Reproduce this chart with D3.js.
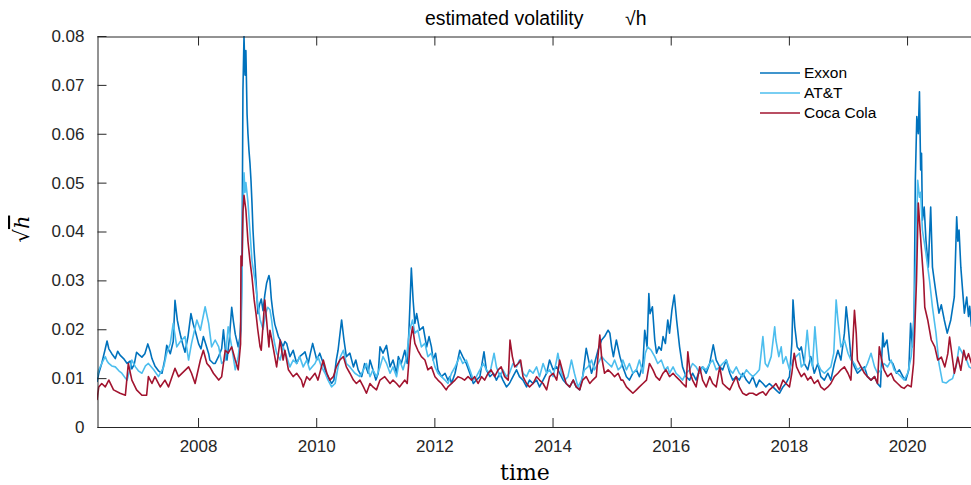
<!DOCTYPE html>
<html><head><meta charset="utf-8">
<script src="https://cdn.jsdelivr.net/npm/d3@7"></script>
<style>html,body{margin:0;padding:0;background:#fff;}svg{display:block;}</style>
</head><body><svg id="c" width="971" height="485"></svg>
<script>
const seriesNames = ["Exxon", "AT&T", "Coca Cola"];
const seriesColors = ["#0072BD", "#4DBEEE", "#A2142F"];
const xTicks = [2008, 2010, 2012, 2014, 2016, 2018, 2020];
const yTicks = [0, 0.01, 0.02, 0.03, 0.04, 0.05, 0.06, 0.07, 0.08];
const yTickLabels = ["0", "0.01", "0.02", "0.03", "0.04", "0.05", "0.06", "0.07", "0.08"];

const exxon = [[2006.29,0.0092],[2006.32,0.0110],[2006.37,0.0130],[2006.43,0.0160],[2006.46,0.0176],[2006.49,0.0160],[2006.54,0.0150],[2006.60,0.0140],[2006.64,0.0155],[2006.68,0.0147],[2006.74,0.0140],[2006.80,0.0130],[2006.85,0.0135],[2006.88,0.0119],[2006.92,0.0128],[2006.96,0.0153],[2007.00,0.0148],[2007.05,0.0143],[2007.10,0.0150],[2007.15,0.0170],[2007.19,0.0155],[2007.22,0.0140],[2007.27,0.0125],[2007.33,0.0115],[2007.39,0.0110],[2007.44,0.0140],[2007.47,0.0167],[2007.53,0.0150],[2007.58,0.0175],[2007.61,0.0259],[2007.65,0.0218],[2007.68,0.0200],[2007.71,0.0184],[2007.75,0.0165],[2007.78,0.0153],[2007.83,0.0185],[2007.88,0.0232],[2007.92,0.0210],[2007.95,0.0198],[2008.01,0.0170],[2008.05,0.0160],[2008.09,0.0185],[2008.13,0.0170],[2008.18,0.0150],[2008.20,0.0137],[2008.26,0.0130],[2008.29,0.0130],[2008.35,0.0145],[2008.40,0.0160],[2008.43,0.0199],[2008.46,0.0160],[2008.49,0.0137],[2008.53,0.0180],[2008.57,0.0245],[2008.60,0.0215],[2008.63,0.0190],[2008.68,0.0164],[2008.71,0.0185],[2008.73,0.0230],[2008.745,0.0350],[2008.76,0.0690],[2008.778,0.0800],[2008.795,0.0720],[2008.81,0.0770],[2008.83,0.0640],[2008.845,0.0600],[2008.862,0.0566],[2008.879,0.0540],[2008.896,0.0505],[2008.913,0.0458],[2008.93,0.0403],[2008.95,0.0360],[2008.964,0.0335],[2008.99,0.0280],[2009.014,0.0232],[2009.04,0.0250],[2009.07,0.0262],[2009.10,0.0238],[2009.13,0.0270],[2009.16,0.0294],[2009.20,0.0310],[2009.217,0.0300],[2009.24,0.0262],[2009.27,0.0232],[2009.30,0.0210],[2009.33,0.0198],[2009.36,0.0185],[2009.39,0.0178],[2009.44,0.0164],[2009.47,0.0175],[2009.50,0.0171],[2009.555,0.0144],[2009.61,0.0157],[2009.67,0.0130],[2009.72,0.0144],[2009.78,0.0150],[2009.81,0.0154],[2009.865,0.0130],[2009.90,0.0150],[2009.94,0.0171],[2010.01,0.0137],[2010.06,0.0151],[2010.12,0.0130],[2010.15,0.0117],[2010.20,0.0103],[2010.26,0.0089],[2010.30,0.0096],[2010.34,0.0137],[2010.37,0.0157],[2010.43,0.0219],[2010.47,0.0178],[2010.51,0.0144],[2010.57,0.0151],[2010.63,0.0123],[2010.67,0.0137],[2010.71,0.0117],[2010.77,0.0103],[2010.82,0.0130],[2010.88,0.0110],[2010.91,0.0137],[2010.96,0.0117],[2011.01,0.0096],[2011.05,0.0110],[2011.08,0.0164],[2011.13,0.0151],[2011.19,0.0167],[2011.25,0.0123],[2011.30,0.0137],[2011.36,0.0110],[2011.39,0.0144],[2011.44,0.0130],[2011.50,0.0157],[2011.54,0.0130],[2011.57,0.0198],[2011.61,0.0325],[2011.64,0.0260],[2011.67,0.0212],[2011.70,0.0232],[2011.75,0.0198],[2011.81,0.0205],[2011.87,0.0164],[2011.91,0.0185],[2011.95,0.0164],[2011.98,0.0137],[2012.02,0.0151],[2012.06,0.0117],[2012.12,0.0103],[2012.18,0.0110],[2012.23,0.0096],[2012.26,0.0103],[2012.29,0.0089],[2012.35,0.0110],[2012.43,0.0157],[2012.48,0.0144],[2012.54,0.0130],[2012.60,0.0110],[2012.66,0.0089],[2012.71,0.0096],[2012.77,0.0103],[2012.84,0.0154],[2012.88,0.0117],[2012.94,0.0103],[2013.00,0.0110],[2013.05,0.0096],[2013.11,0.0110],[2013.16,0.0096],[2013.22,0.0082],[2013.27,0.0089],[2013.33,0.0103],[2013.39,0.0117],[2013.44,0.0103],[2013.50,0.0096],[2013.56,0.0082],[2013.61,0.0096],[2013.67,0.0089],[2013.73,0.0096],[2013.78,0.0082],[2013.84,0.0096],[2013.90,0.0110],[2013.95,0.0137],[2014.01,0.0117],[2014.07,0.0123],[2014.12,0.0110],[2014.18,0.0096],[2014.23,0.0089],[2014.29,0.0082],[2014.35,0.0096],[2014.40,0.0082],[2014.46,0.0076],[2014.51,0.0103],[2014.57,0.0161],[2014.61,0.0137],[2014.66,0.0110],[2014.71,0.0130],[2014.77,0.0157],[2014.83,0.0178],[2014.88,0.0185],[2014.94,0.0198],[2014.97,0.0192],[2015.00,0.0164],[2015.03,0.0144],[2015.08,0.0178],[2015.14,0.0144],[2015.19,0.0123],[2015.25,0.0103],[2015.30,0.0096],[2015.36,0.0110],[2015.42,0.0117],[2015.47,0.0103],[2015.53,0.0130],[2015.56,0.0198],[2015.60,0.0164],[2015.63,0.0273],[2015.65,0.0232],[2015.69,0.0246],[2015.73,0.0178],[2015.76,0.0151],[2015.80,0.0164],[2015.84,0.0157],[2015.87,0.0185],[2015.91,0.0171],[2015.95,0.0219],[2015.98,0.0192],[2016.02,0.0239],[2016.06,0.0270],[2016.10,0.0219],[2016.15,0.0164],[2016.20,0.0123],[2016.26,0.0103],[2016.32,0.0096],[2016.37,0.0110],[2016.43,0.0096],[2016.49,0.0117],[2016.54,0.0123],[2016.60,0.0110],[2016.66,0.0130],[2016.72,0.0168],[2016.77,0.0137],[2016.83,0.0123],[2016.88,0.0117],[2016.94,0.0137],[2017.00,0.0110],[2017.05,0.0096],[2017.11,0.0103],[2017.16,0.0096],[2017.22,0.0110],[2017.28,0.0096],[2017.33,0.0089],[2017.39,0.0103],[2017.45,0.0082],[2017.50,0.0096],[2017.56,0.0089],[2017.61,0.0082],[2017.67,0.0089],[2017.73,0.0082],[2017.78,0.0076],[2017.84,0.0069],[2017.90,0.0082],[2017.95,0.0089],[2018.01,0.0103],[2018.05,0.0171],[2018.07,0.0260],[2018.10,0.0205],[2018.14,0.0164],[2018.18,0.0157],[2018.21,0.0164],[2018.26,0.0130],[2018.32,0.0117],[2018.37,0.0144],[2018.43,0.0110],[2018.49,0.0130],[2018.54,0.0103],[2018.60,0.0096],[2018.66,0.0110],[2018.71,0.0096],[2018.77,0.0130],[2018.83,0.0157],[2018.88,0.0137],[2018.94,0.0192],[2018.97,0.0246],[2019.00,0.0212],[2019.03,0.0171],[2019.05,0.0144],[2019.11,0.0123],[2019.16,0.0110],[2019.22,0.0117],[2019.28,0.0123],[2019.33,0.0103],[2019.39,0.0096],[2019.45,0.0103],[2019.50,0.0089],[2019.55,0.0082],[2019.59,0.0192],[2019.61,0.0164],[2019.66,0.0178],[2019.70,0.0137],[2019.76,0.0130],[2019.82,0.0110],[2019.87,0.0117],[2019.93,0.0103],[2019.98,0.0096],[2020.03,0.0117],[2020.06,0.0212],[2020.09,0.0164],[2020.12,0.0232],[2020.14,0.0505],[2020.165,0.0635],[2020.19,0.0600],[2020.21,0.0686],[2020.23,0.0526],[2020.245,0.0560],[2020.26,0.0423],[2020.29,0.0450],[2020.32,0.0382],[2020.36,0.0327],[2020.40,0.0450],[2020.43,0.0327],[2020.46,0.0300],[2020.49,0.0274],[2020.54,0.0233],[2020.58,0.0250],[2020.63,0.0219],[2020.68,0.0192],[2020.74,0.0219],[2020.80,0.0266],[2020.84,0.0430],[2020.86,0.0380],[2020.88,0.0403],[2020.91,0.0327],[2020.94,0.0280],[2020.97,0.0233],[2021.01,0.0266],[2021.04,0.0226],[2021.06,0.0247],[2021.09,0.0205]];

const att = [[2006.29,0.0103],[2006.32,0.0117],[2006.37,0.0130],[2006.43,0.0144],[2006.46,0.0135],[2006.49,0.0130],[2006.54,0.0125],[2006.60,0.0123],[2006.66,0.0115],[2006.71,0.0110],[2006.77,0.0100],[2006.80,0.0096],[2006.85,0.0120],[2006.88,0.0137],[2006.94,0.0123],[2006.99,0.0115],[2007.05,0.0110],[2007.11,0.0125],[2007.16,0.0130],[2007.25,0.0117],[2007.33,0.0103],[2007.42,0.0123],[2007.47,0.0151],[2007.53,0.0171],[2007.58,0.0212],[2007.64,0.0164],[2007.70,0.0175],[2007.78,0.0185],[2007.84,0.0137],[2007.89,0.0171],[2007.98,0.0219],[2008.04,0.0198],[2008.12,0.0246],[2008.18,0.0212],[2008.23,0.0164],[2008.29,0.0178],[2008.35,0.0164],[2008.40,0.0130],[2008.46,0.0137],[2008.51,0.0205],[2008.57,0.0164],[2008.63,0.0117],[2008.68,0.0144],[2008.73,0.0198],[2008.745,0.0300],[2008.76,0.0450],[2008.778,0.0520],[2008.795,0.0480],[2008.81,0.0500],[2008.845,0.0460],[2008.879,0.0400],[2008.913,0.0340],[2008.964,0.0300],[2009.014,0.0250],[2009.05,0.0220],[2009.10,0.0200],[2009.14,0.0230],[2009.18,0.0245],[2009.217,0.0240],[2009.245,0.0219],[2009.285,0.0178],[2009.33,0.0151],[2009.39,0.0137],[2009.44,0.0164],[2009.50,0.0144],[2009.555,0.0123],[2009.61,0.0137],[2009.67,0.0130],[2009.72,0.0144],[2009.78,0.0123],[2009.84,0.0137],[2009.89,0.0117],[2009.98,0.0130],[2010.03,0.0144],[2010.09,0.0123],[2010.15,0.0110],[2010.20,0.0096],[2010.26,0.0082],[2010.32,0.0089],[2010.37,0.0123],[2010.41,0.0144],[2010.46,0.0157],[2010.51,0.0130],[2010.57,0.0123],[2010.655,0.0110],[2010.74,0.0103],[2010.80,0.0117],[2010.85,0.0130],[2010.91,0.0103],[2010.96,0.0117],[2011.02,0.0103],[2011.08,0.0123],[2011.13,0.0144],[2011.19,0.0130],[2011.25,0.0110],[2011.30,0.0123],[2011.36,0.0103],[2011.41,0.0137],[2011.47,0.0117],[2011.53,0.0144],[2011.58,0.0198],[2011.63,0.0219],[2011.67,0.0192],[2011.72,0.0198],[2011.78,0.0164],[2011.84,0.0171],[2011.89,0.0144],[2011.95,0.0151],[2012.01,0.0123],[2012.06,0.0110],[2012.12,0.0103],[2012.18,0.0096],[2012.23,0.0089],[2012.29,0.0110],[2012.35,0.0123],[2012.43,0.0144],[2012.48,0.0130],[2012.54,0.0137],[2012.60,0.0117],[2012.66,0.0096],[2012.71,0.0103],[2012.77,0.0117],[2012.83,0.0130],[2012.88,0.0117],[2012.94,0.0110],[2013.01,0.0151],[2013.05,0.0123],[2013.11,0.0103],[2013.16,0.0117],[2013.22,0.0103],[2013.27,0.0110],[2013.33,0.0130],[2013.39,0.0123],[2013.44,0.0137],[2013.50,0.0110],[2013.56,0.0103],[2013.61,0.0117],[2013.67,0.0110],[2013.73,0.0123],[2013.78,0.0103],[2013.84,0.0130],[2013.90,0.0110],[2013.95,0.0117],[2014.01,0.0103],[2014.07,0.0137],[2014.09,0.0151],[2014.15,0.0110],[2014.21,0.0096],[2014.26,0.0103],[2014.32,0.0137],[2014.37,0.0110],[2014.43,0.0082],[2014.49,0.0096],[2014.54,0.0117],[2014.60,0.0123],[2014.66,0.0137],[2014.71,0.0117],[2014.77,0.0130],[2014.83,0.0144],[2014.88,0.0137],[2014.94,0.0130],[2015.00,0.0123],[2015.05,0.0137],[2015.11,0.0117],[2015.16,0.0123],[2015.19,0.0137],[2015.25,0.0117],[2015.30,0.0130],[2015.36,0.0110],[2015.42,0.0117],[2015.47,0.0137],[2015.53,0.0110],[2015.57,0.0151],[2015.61,0.0164],[2015.67,0.0157],[2015.73,0.0144],[2015.78,0.0130],[2015.84,0.0137],[2015.90,0.0117],[2015.95,0.0123],[2015.98,0.0110],[2016.04,0.0123],[2016.09,0.0110],[2016.15,0.0103],[2016.20,0.0096],[2016.26,0.0110],[2016.32,0.0117],[2016.37,0.0130],[2016.43,0.0123],[2016.49,0.0110],[2016.54,0.0123],[2016.60,0.0117],[2016.66,0.0130],[2016.71,0.0137],[2016.77,0.0117],[2016.83,0.0123],[2016.88,0.0130],[2016.94,0.0137],[2017.00,0.0117],[2017.05,0.0110],[2017.11,0.0123],[2017.16,0.0110],[2017.22,0.0103],[2017.28,0.0117],[2017.33,0.0110],[2017.39,0.0103],[2017.45,0.0110],[2017.50,0.0117],[2017.56,0.0185],[2017.60,0.0130],[2017.64,0.0123],[2017.70,0.0144],[2017.76,0.0205],[2017.78,0.0178],[2017.83,0.0144],[2017.87,0.0164],[2017.90,0.0130],[2017.95,0.0144],[2017.98,0.0130],[2018.01,0.0117],[2018.07,0.0137],[2018.12,0.0144],[2018.18,0.0151],[2018.21,0.0123],[2018.26,0.0130],[2018.31,0.0198],[2018.35,0.0144],[2018.40,0.0123],[2018.44,0.0205],[2018.49,0.0130],[2018.54,0.0117],[2018.60,0.0110],[2018.66,0.0117],[2018.71,0.0123],[2018.76,0.0151],[2018.80,0.0260],[2018.83,0.0219],[2018.88,0.0164],[2018.94,0.0178],[2019.00,0.0151],[2019.05,0.0137],[2019.11,0.0130],[2019.16,0.0117],[2019.22,0.0123],[2019.28,0.0117],[2019.33,0.0130],[2019.39,0.0151],[2019.45,0.0123],[2019.50,0.0110],[2019.56,0.0117],[2019.61,0.0130],[2019.67,0.0123],[2019.73,0.0137],[2019.78,0.0117],[2019.84,0.0110],[2019.90,0.0103],[2019.95,0.0096],[2020.01,0.0110],[2020.07,0.0144],[2020.11,0.0198],[2020.15,0.0350],[2020.18,0.0505],[2020.21,0.0470],[2020.23,0.0480],[2020.26,0.0403],[2020.32,0.0355],[2020.38,0.0300],[2020.43,0.0245],[2020.49,0.0192],[2020.54,0.0130],[2020.60,0.0092],[2020.66,0.0090],[2020.71,0.0095],[2020.77,0.0099],[2020.83,0.0123],[2020.88,0.0164],[2020.94,0.0150],[2020.99,0.0143],[2021.05,0.0123],[2021.09,0.0120]];

const coke = [[2006.29,0.0055],[2006.32,0.0082],[2006.37,0.0089],[2006.43,0.0082],[2006.49,0.0096],[2006.57,0.0076],[2006.68,0.0069],[2006.77,0.0065],[2006.82,0.0130],[2006.88,0.0096],[2006.96,0.0076],[2007.05,0.0065],[2007.13,0.0065],[2007.16,0.0103],[2007.22,0.0089],[2007.27,0.0103],[2007.36,0.0082],[2007.44,0.0096],[2007.50,0.0082],[2007.56,0.0103],[2007.61,0.0120],[2007.67,0.0103],[2007.84,0.0123],[2007.89,0.0110],[2007.95,0.0089],[2008.04,0.0137],[2008.09,0.0157],[2008.15,0.0130],[2008.20,0.0123],[2008.26,0.0110],[2008.35,0.0096],[2008.40,0.0103],[2008.46,0.0157],[2008.51,0.0151],[2008.57,0.0164],[2008.63,0.0137],[2008.68,0.0117],[2008.72,0.0170],[2008.727,0.0350],[2008.744,0.0330],[2008.76,0.0440],[2008.778,0.0474],[2008.81,0.0444],[2008.845,0.0380],[2008.879,0.0340],[2008.913,0.0307],[2008.95,0.0260],[2008.98,0.0233],[2009.01,0.0200],[2009.05,0.0164],[2009.07,0.0157],[2009.13,0.0260],[2009.16,0.0219],[2009.20,0.0164],[2009.217,0.0198],[2009.25,0.0178],[2009.27,0.0164],[2009.33,0.0123],[2009.39,0.0178],[2009.44,0.0137],[2009.47,0.0157],[2009.53,0.0117],[2009.61,0.0103],[2009.67,0.0110],[2009.75,0.0096],[2009.78,0.0082],[2009.84,0.0103],[2009.89,0.0096],[2009.98,0.0110],[2010.03,0.0096],[2010.12,0.0137],[2010.18,0.0110],[2010.23,0.0096],[2010.29,0.0103],[2010.34,0.0123],[2010.40,0.0137],[2010.46,0.0144],[2010.51,0.0123],[2010.57,0.0110],[2010.63,0.0096],[2010.68,0.0089],[2010.74,0.0096],[2010.80,0.0082],[2010.85,0.0069],[2010.91,0.0089],[2010.96,0.0082],[2011.02,0.0076],[2011.08,0.0096],[2011.16,0.0103],[2011.25,0.0089],[2011.30,0.0096],[2011.36,0.0089],[2011.41,0.0082],[2011.50,0.0096],[2011.54,0.0089],[2011.595,0.0178],[2011.63,0.0205],[2011.67,0.0171],[2011.72,0.0157],[2011.78,0.0144],[2011.84,0.0137],[2011.89,0.0117],[2011.95,0.0123],[2012.01,0.0103],[2012.06,0.0096],[2012.12,0.0089],[2012.20,0.0076],[2012.23,0.0082],[2012.29,0.0089],[2012.35,0.0096],[2012.40,0.0103],[2012.46,0.0100],[2012.51,0.0096],[2012.57,0.0103],[2012.63,0.0096],[2012.68,0.0103],[2012.74,0.0089],[2012.80,0.0103],[2012.85,0.0096],[2012.91,0.0110],[2012.96,0.0117],[2013.02,0.0103],[2013.08,0.0117],[2013.13,0.0123],[2013.19,0.0103],[2013.25,0.0096],[2013.28,0.0178],[2013.32,0.0144],[2013.36,0.0123],[2013.42,0.0130],[2013.46,0.0137],[2013.50,0.0103],[2013.56,0.0089],[2013.61,0.0082],[2013.67,0.0089],[2013.73,0.0103],[2013.78,0.0096],[2013.84,0.0089],[2013.90,0.0076],[2013.95,0.0103],[2014.01,0.0110],[2014.07,0.0096],[2014.12,0.0137],[2014.18,0.0110],[2014.23,0.0089],[2014.29,0.0082],[2014.35,0.0096],[2014.40,0.0082],[2014.46,0.0076],[2014.51,0.0096],[2014.57,0.0103],[2014.63,0.0089],[2014.68,0.0096],[2014.74,0.0103],[2014.80,0.0188],[2014.83,0.0144],[2014.88,0.0110],[2014.94,0.0117],[2015.00,0.0110],[2015.05,0.0103],[2015.11,0.0110],[2015.16,0.0096],[2015.19,0.0096],[2015.25,0.0082],[2015.30,0.0076],[2015.36,0.0069],[2015.42,0.0076],[2015.47,0.0082],[2015.53,0.0089],[2015.59,0.0096],[2015.64,0.0130],[2015.70,0.0117],[2015.75,0.0103],[2015.81,0.0096],[2015.87,0.0110],[2015.92,0.0117],[2015.98,0.0103],[2016.04,0.0110],[2016.09,0.0103],[2016.15,0.0096],[2016.20,0.0089],[2016.26,0.0082],[2016.29,0.0154],[2016.33,0.0110],[2016.37,0.0096],[2016.43,0.0082],[2016.49,0.0123],[2016.54,0.0096],[2016.60,0.0082],[2016.66,0.0103],[2016.71,0.0089],[2016.77,0.0082],[2016.83,0.0123],[2016.88,0.0089],[2016.94,0.0082],[2017.00,0.0076],[2017.05,0.0089],[2017.11,0.0103],[2017.16,0.0082],[2017.22,0.0069],[2017.28,0.0065],[2017.33,0.0069],[2017.39,0.0069],[2017.45,0.0065],[2017.50,0.0069],[2017.56,0.0072],[2017.61,0.0065],[2017.67,0.0076],[2017.73,0.0082],[2017.78,0.0089],[2017.84,0.0076],[2017.90,0.0096],[2017.95,0.0089],[2018.01,0.0082],[2018.05,0.0110],[2018.09,0.0151],[2018.13,0.0123],[2018.18,0.0110],[2018.21,0.0103],[2018.26,0.0110],[2018.32,0.0096],[2018.37,0.0103],[2018.43,0.0089],[2018.49,0.0096],[2018.54,0.0082],[2018.60,0.0076],[2018.66,0.0082],[2018.71,0.0089],[2018.77,0.0103],[2018.83,0.0110],[2018.88,0.0117],[2018.94,0.0123],[2019.00,0.0110],[2019.05,0.0096],[2019.11,0.0239],[2019.14,0.0192],[2019.16,0.0137],[2019.22,0.0123],[2019.28,0.0110],[2019.33,0.0103],[2019.39,0.0096],[2019.45,0.0103],[2019.50,0.0089],[2019.53,0.0164],[2019.57,0.0137],[2019.61,0.0117],[2019.67,0.0103],[2019.73,0.0110],[2019.78,0.0096],[2019.84,0.0089],[2019.90,0.0082],[2019.95,0.0079],[2020.01,0.0086],[2020.07,0.0082],[2020.11,0.0130],[2020.13,0.0198],[2020.16,0.0300],[2020.19,0.0458],[2020.21,0.0423],[2020.24,0.0368],[2020.28,0.0301],[2020.30,0.0245],[2020.35,0.0219],[2020.41,0.0178],[2020.47,0.0164],[2020.52,0.0137],[2020.58,0.0143],[2020.64,0.0123],[2020.69,0.0150],[2020.72,0.0184],[2020.75,0.0157],[2020.80,0.0110],[2020.86,0.0143],[2020.91,0.0116],[2020.96,0.0157],[2021.00,0.0137],[2021.04,0.0150],[2021.09,0.0130]];

const seriesData = [exxon, att, coke];

const L = 97, R = 975, T = 36, B = 427;
const svg = d3.select("#c");
const x = d3.scaleLinear().domain([2006.29, 2021.15]).range([L, R]);
const y = d3.scaleLinear().domain([0, 0.08]).range([B, T]);
const axisColor = "#262626";
const sans = "'Liberation Sans', Arial, Helvetica, sans-serif";
const serif = "'DejaVu Serif', 'Liberation Serif', serif";

svg.append("defs").append("clipPath").attr("id", "clip")
  .append("rect").attr("x", L).attr("y", T).attr("width", R - L).attr("height", B - T);

const line = d3.line().x(d => x(d[0])).y(d => y(d[1]));
const g = svg.append("g").attr("clip-path", "url(#clip)");
seriesData.forEach((s, i) => {
  g.append("path").datum(s).attr("d", line).attr("fill", "none")
    .attr("stroke", seriesColors[i]).attr("stroke-width", 1.6).attr("stroke-linejoin", "round");
});

// axes
const xAxisB = d3.axisBottom(x).tickValues(xTicks).tickFormat(d3.format("d")).tickSizeInner(-9).tickSizeOuter(0).tickPadding(13);
const gxb = svg.append("g").attr("transform", `translate(0,${B})`).call(xAxisB);
const xAxisT = d3.axisTop(x).tickValues(xTicks).tickFormat("").tickSizeInner(-9).tickSizeOuter(0);
const gxt = svg.append("g").attr("transform", `translate(0,${T + 0.5})`).call(xAxisT);
const yAxis = d3.axisLeft(y).tickValues(yTicks).tickFormat((d, i) => yTickLabels[i]).tickSizeInner(-9).tickSizeOuter(0).tickPadding(13);
const gy = svg.append("g").attr("transform", `translate(${L + 0.5},0)`).call(yAxis);
[gxb, gxt, gy].forEach(a => {
  a.selectAll(".domain").attr("stroke", axisColor);
  a.selectAll(".tick line").attr("stroke", axisColor);
  a.selectAll("text").attr("fill", axisColor).style("font-family", sans).style("font-size", "17px");
});
gxb.selectAll(".tick text").attr("dy", "0.71em");

// title
const title = svg.append("text").attr("y", 25).style("font-family", sans).style("font-size", "19.4px").attr("fill", "#000");
title.append("tspan").attr("x", 425).text("estimated volatility");
title.append("tspan").attr("x", 625).text("√h");

// x label
svg.append("text").attr("x", 525).attr("y", 480).attr("text-anchor", "middle")
  .style("font-family", serif).style("font-size", "22px").attr("fill", "#000").text("time");

// y label
const yl = svg.append("text").attr("transform", "translate(29,229) rotate(-90)").attr("text-anchor", "middle")
  .style("font-family", serif).style("font-size", "21px").attr("fill", "#000");
yl.append("tspan").text("√");
yl.append("tspan").style("font-style", "italic").style("text-decoration", "overline").text("h");

// legend
const lg = svg.append("g");
seriesNames.forEach((n, i) => {
  const yy = 73 + i * 20;
  lg.append("line").attr("x1", 760).attr("x2", 800).attr("y1", yy).attr("y2", yy).attr("stroke", seriesColors[i]).attr("stroke-width", 1.6);
  lg.append("text").attr("x", 804).attr("y", yy).attr("dy", "0.35em").style("font-family", sans).style("font-size", "15.5px").attr("fill", "#000").text(n);
});
</script></body></html>
